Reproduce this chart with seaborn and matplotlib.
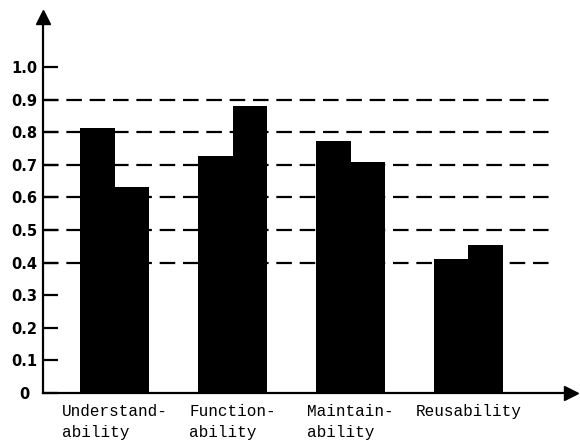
import numpy as np
import pandas as pd
import matplotlib
matplotlib.use("Agg")
import matplotlib.pyplot as plt
import seaborn as sns

categories = ["Understand-\nability", "Function-\nability", "Maintain-\nability", "Reusability"]
series_names = ["A", "B"]
series_a = [0.813, 0.727, 0.773, 0.411]
series_b = [0.632, 0.880, 0.708, 0.454]
y_ticks = [0, 0.1, 0.2, 0.3, 0.4, 0.5, 0.6, 0.7, 0.8, 0.9, 1.0]
y_tick_labels = ["0", "0.1", "0.2", "0.3", "0.4", "0.5", "0.6", "0.7", "0.8", "0.9", "1.0"]
grid_levels = [0.4, 0.5, 0.6, 0.7, 0.8, 0.9]

df = pd.DataFrame({
    "category": categories * 2,
    "series": [series_names[0]] * 4 + [series_names[1]] * 4,
    "value": series_a + series_b,
})

sns.set_style("white")
W, H = 580, 448
fig = plt.figure(figsize=(W / 100, H / 100), dpi=100)
x0, x1, y0, y1 = 43, 571, 393, 17
ax = fig.add_axes([x0 / W, (H - y0) / H, (x1 - x0) / W, (y0 - y1) / H])

sns.barplot(data=df, x="category", y="value", hue="series", order=categories,
            palette=["black", "black"], width=0.59, dodge=True, saturation=1,
            linewidth=0, legend=False, ax=ax, zorder=2)

xl = (x0 - 114.5) / 118
xr = (x1 - 114.5) / 118
ax.set_xlim(xl, xr)
ax.set_ylim(0, (y0 - y1) / 326)

ax.hlines(grid_levels, xl, (551 - 114.5) / 118, colors="black",
          linestyles=(0, (7, 3.5)), linewidth=1.6, zorder=1)

for s in ["top", "right"]:
    ax.spines[s].set_visible(False)
for s in ["left", "bottom"]:
    ax.spines[s].set_color("black")
    ax.spines[s].set_linewidth(1.6)

ax.plot(1, 0, ">", color="black", markersize=10, transform=ax.transAxes, clip_on=False)
ax.plot(0, 1, "^", color="black", markersize=10, transform=ax.transAxes, clip_on=False)

ax.set_yticks(y_ticks)
ax.set_yticklabels(y_tick_labels, fontsize=10.5, fontweight="bold", family="DejaVu Sans",
                   ha="center", color="black")
ax.tick_params(axis="y", left=True, direction="in", length=11, width=1.6,
               color="black", pad=13.5)
ax.tick_params(axis="x", bottom=False, length=0, pad=8)
ax.set_xticks(range(len(categories)))
ax.set_xticklabels(categories, fontsize=11.5, family="Liberation Mono",
                   multialignment="left", linespacing=1.45, color="black")
ax.set_xlabel("")
ax.set_ylabel("")

fig.savefig("out.png", dpi=100)
